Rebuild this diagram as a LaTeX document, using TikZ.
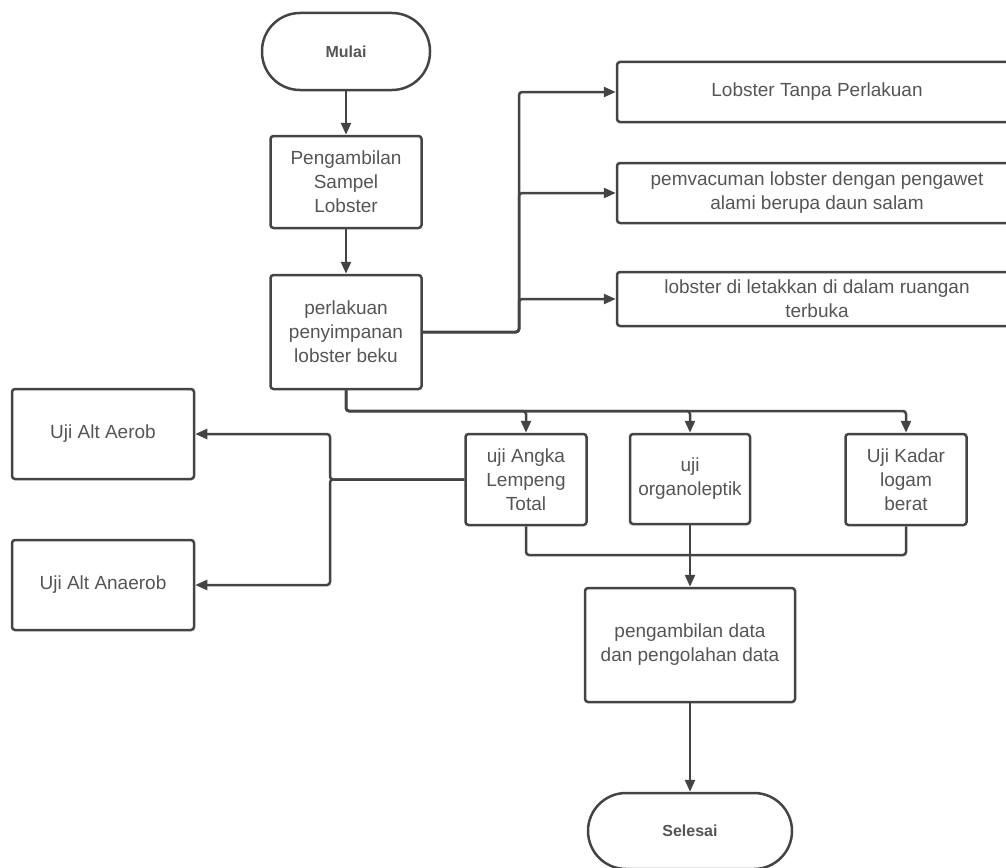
\documentclass[tikz,border=0pt]{standalone}
\usepackage{fontspec}
\setmainfont{Liberation Sans}
\usetikzlibrary{arrows.meta}
\definecolor{linegray}{HTML}{444444}
\definecolor{textgray}{HTML}{555555}
\begin{document}
\begin{tikzpicture}[x=1pt, y=-1pt,
		box/.style={rectangle, draw=linegray, line width=2.5pt, rounded corners=3pt, inner sep=0pt, align=center, text=textgray, font=\fontsize{19}{24}\selectfont},
		term/.style={box, rounded corners=38pt, font=\bfseries\fontsize{16}{19}\selectfont},
		link/.style={draw=linegray, line width=2.5pt, rounded corners=3pt},
		arr/.style={link, -{Triangle[length=12pt, width=10pt]}}]
				\clip (0,0) rectangle (1006,867);

				% Start and first steps
				\node[term, minimum width=168pt, minimum height=77pt] (mulai) at (346,51.5) {Mulai};
				\node[box, minimum width=151pt, minimum height=92pt] (ambil) at (346,182) {Pengambilan\\Sampel\\Lobster};
				\node[box, minimum width=151pt, minimum height=114pt] (perl) at (346,332) {perlakuan\\penyimpanan\\lobster beku};

				% Storage treatments
				\node[box, minimum width=400pt, minimum height=60pt] (lob1) at (817,92) {Lobster Tanpa Perlakuan};
				\node[box, minimum width=400pt, minimum height=60pt] (lob2) at (817,193) {pemvacuman lobster dengan pengawet\\alami berupa daun salam};
				\node[box, minimum width=400pt, minimum height=54pt] (lob3) at (817,299) {lobster di letakkan di dalam ruangan\\terbuka};

				% Tests
				\node[box, minimum width=121pt, minimum height=91pt] (uji1) at (526,479.5) {uji Angka\\Lempeng\\Total};
				\node[box, minimum width=120pt, minimum height=90pt] (uji2) at (690,479) {uji\\organoleptik};
				\node[box, minimum width=121pt, minimum height=91pt] (uji3) at (906,479.5) {Uji Kadar\\logam\\berat};
				\node[box, minimum width=182pt, minimum height=90pt] (aerob) at (103,434) {Uji Alt Aerob};
				\node[box, minimum width=182pt, minimum height=90pt] (anaer) at (103,585) {Uji Alt Anaerob};

				% Data and end
				\node[box, minimum width=210pt, minimum height=114pt] (data) at (690,645) {pengambilan data\\dan pengolahan data};
				\node[term, minimum width=204pt, minimum height=76pt] (selesai) at (690,831) {Selesai};

				% Helper coordinates for the branch lines
				\coordinate (jr) at (519,0);
				\coordinate (jl) at (330,0);
				\coordinate (bus) at (0,411);
				\coordinate (merge) at (0,555);

				% Connections
				\draw[arr] (mulai) -- (ambil);
				\draw[arr] (ambil) -- (perl);
				\draw[arr] (perl.east) -- (perl.east -| jr) |- (lob1.west);
				\draw[arr] (perl.east) -- (perl.east -| jr) |- (lob2.west);
				\draw[arr] (perl.east) -- (perl.east -| jr) |- (lob3.west);
				\draw[arr] (perl.south) |- (bus -| uji1.north) -- (uji1.north);
				\draw[arr] (perl.south) |- (bus -| uji2.north) -- (uji2.north);
				\draw[arr] (perl.south) |- (bus -| uji3.north) -- (uji3.north);
				\draw[arr] (uji1.west) -- (uji1.west -| jl) |- (aerob.east);
				\draw[arr] (uji1.west) -- (uji1.west -| jl) |- (anaer.east);
				\draw[link] (uji1.south) |- (merge -| uji3.south) -- (uji3.south);
				\draw[arr] (uji2.south) -- (data.north);
				\draw[arr] (data.south) -- (selesai.north);

			\end{tikzpicture}
\end{document}
